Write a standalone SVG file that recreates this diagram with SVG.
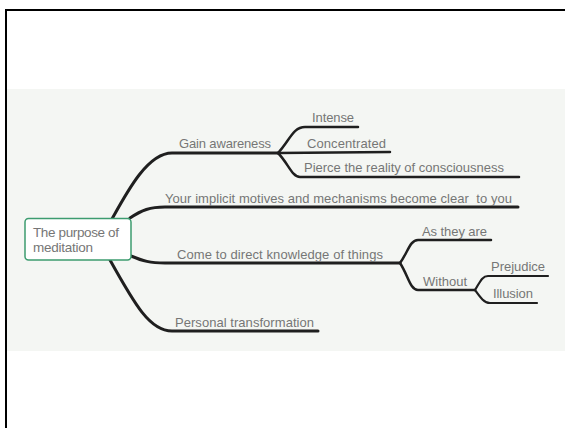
<svg xmlns="http://www.w3.org/2000/svg" width="565" height="428" viewBox="0 0 565 428">
  <style>
    .lbl { font-family: "Liberation Sans", Arial, sans-serif; font-size: 13px; fill: #767676; }
    .root { font-family: "Liberation Sans", Arial, sans-serif; font-size: 13.5px; fill: #767676; }
    .c1 { fill: none; stroke: #1f1f1f; stroke-width: 3; stroke-linecap: round; }
    .c2 { fill: none; stroke: #1f1f1f; stroke-width: 2.5; stroke-linecap: round; }
    .c3 { fill: none; stroke: #1f1f1f; stroke-width: 2.2; stroke-linecap: round; }
  </style>

  <!-- page -->
  <rect x="0" y="0" width="565" height="428" fill="#ffffff"/>
  <rect x="7" y="89" width="558" height="262" fill="#f4f6f3"/>
  <path d="M6,428 V10 H565" fill="none" stroke="#000000" stroke-width="2"/>

  <!-- connectors -->
  <g id="connectors">
    <path class="c1" d="M112,219 C128,190 148,153 172,153 L278,153"/>
    <path class="c1" d="M130,218 C142,210 150,207 165,207 L518,207"/>
    <path class="c1" d="M131,256 C143,261 150,263 165,263 L400,263"/>
    <path class="c1" d="M110,260 C135,305 150,331 172,331 L318,331"/>

    <path class="c2" d="M278,153 C290,140 293,127 305,127 L358,127"/>
    <path class="c2" d="M278,153 L390,152"/>
    <path class="c2" d="M278,153 C288,163 292,177 300,177 L519,177"/>

    <path class="c2" d="M400,263 C408,252 410,240 418,240 L491,240"/>
    <path class="c2" d="M400,263 C408,275 410,290 418,290 L475,290"/>

    <path class="c3" d="M475,290 C480,282 482,276 488,276 L548,276"/>
    <path class="c3" d="M475,290 C480,297 484,303 490,303 L537,303"/>
  </g>

  <!-- nodes -->
  <g id="root">
    <rect x="25" y="218.5" width="106" height="41.5" rx="3.5" fill="#ffffff" stroke="#3c9c6f" stroke-width="1.5"/>
    <text class="root" x="33" y="237" textLength="86" lengthAdjust="spacing">The purpose of</text>
    <text class="root" x="33" y="252" textLength="60" lengthAdjust="spacing">meditation</text>
  </g>
  <g id="gain-awareness"><text class="lbl" x="179" y="148" textLength="92" lengthAdjust="spacing">Gain awareness</text></g>
  <g id="intense"><text class="lbl" x="312" y="122" textLength="42" lengthAdjust="spacing">Intense</text></g>
  <g id="concentrated"><text class="lbl" x="307" y="148" textLength="79" lengthAdjust="spacing">Concentrated</text></g>
  <g id="pierce"><text class="lbl" x="304" y="172" textLength="200" lengthAdjust="spacing">Pierce the reality of consciousness</text></g>
  <g id="implicit-motives"><text class="lbl" x="165" y="203" textLength="347" lengthAdjust="spacing" xml:space="preserve">Your implicit motives and mechanisms become clear  to you</text></g>
  <g id="direct-knowledge"><text class="lbl" x="177" y="259" textLength="206" lengthAdjust="spacing">Come to direct knowledge of things</text></g>
  <g id="as-they-are"><text class="lbl" x="422" y="236" textLength="65" lengthAdjust="spacing">As they are</text></g>
  <g id="without"><text class="lbl" x="423" y="286" textLength="44" lengthAdjust="spacing">Without</text></g>
  <g id="prejudice"><text class="lbl" x="491" y="271" textLength="54" lengthAdjust="spacing">Prejudice</text></g>
  <g id="illusion"><text class="lbl" x="493" y="298" textLength="40" lengthAdjust="spacing">Illusion</text></g>
  <g id="personal-transformation"><text class="lbl" x="175" y="327" textLength="139" lengthAdjust="spacing">Personal transformation</text></g>
</svg>
